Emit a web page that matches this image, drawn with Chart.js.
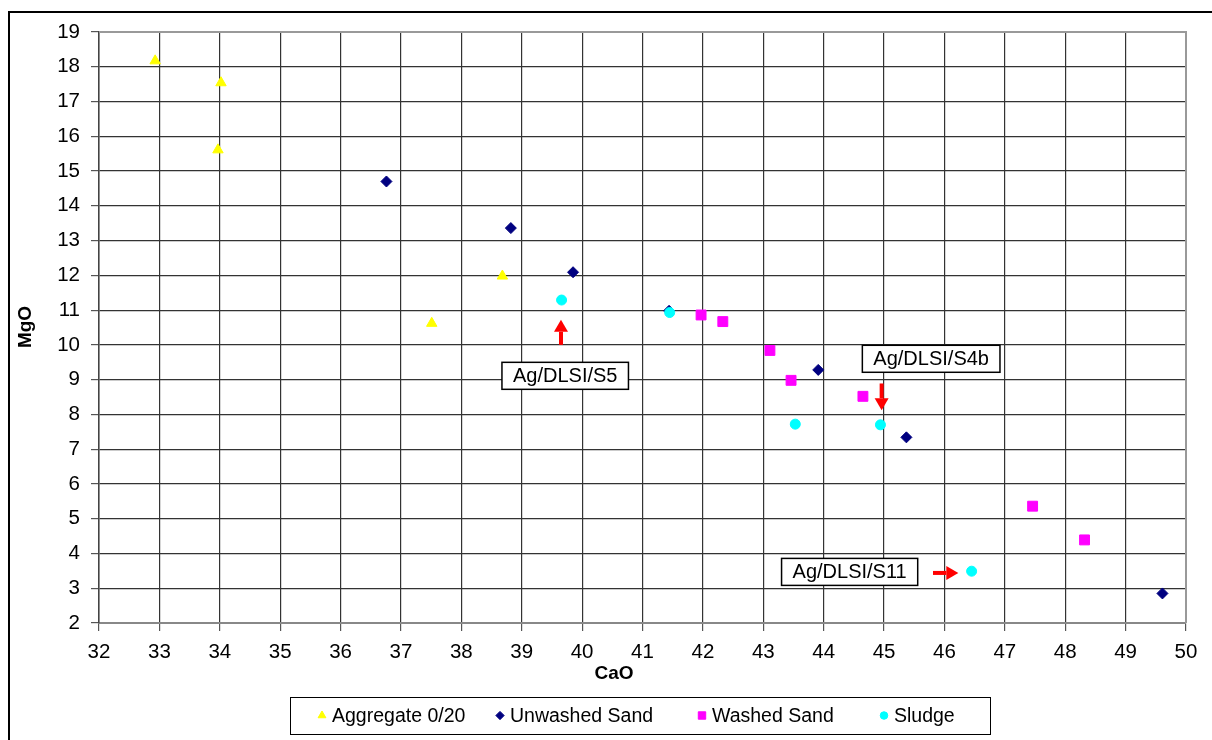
<!DOCTYPE html>
<html>
<head>
<meta charset="utf-8">
<script src="https://cdn.jsdelivr.net/npm/chart.js@4.4.0/dist/chart.umd.min.js"></script>
<style>
  html, body { margin: 0; padding: 0; background: #fff; }
  canvas { display: block; }
</style>
</head>
<body>
<canvas id="chart" width="1212" height="740"></canvas>
<script>
// series names / colours / marker styles
const seriesNames = ['Aggregate 0/20', 'Unwashed Sand', 'Washed Sand', 'Sludge'];
const seriesColors = ['#FFFF00', '#000080', '#FF00FF', '#00FFFF'];
const seriesShapes = ['triangle', 'rectRot', 'rect', 'circle'];

// CaO (x) / MgO (y) values
const aggCaO = [32.93, 34.02, 33.97, 38.68, 37.51];
const aggMgO = [18.17, 17.54, 15.61, 11.98, 10.62];

const unwashedCaO = [36.76, 38.82, 39.85, 41.44, 43.91, 45.37, 49.61];
const unwashedMgO = [14.70, 13.36, 12.09, 10.98, 9.28, 7.34, 2.85];

const washedCaO = [41.97, 42.33, 43.11, 43.46, 44.65, 47.46, 48.32];
const washedMgO = [10.86, 10.67, 9.84, 8.98, 8.52, 5.36, 4.39];

const sludgeCaO = [39.66, 41.45, 43.53, 44.94, 46.45];
const sludgeMgO = [11.29, 10.93, 7.72, 7.70, 3.49];

// axis ranges
const xMin = 32, xMax = 50;
const yMin = 2, yMax = 19;

// callout labels and arrows (data coordinates)
const noteTexts = ['Ag/DLSI/S5', 'Ag/DLSI/S4b', 'Ag/DLSI/S11'];
const noteX = [39.72, 45.78, 44.43];
const noteY = [9.11, 9.60, 3.47];
const arrowFromX = [39.65, 44.96, 45.81];
const arrowFromY = [10.00, 8.89, 3.44];
const arrowToX = [39.65, 44.96, 46.23];
const arrowToY = [10.72, 8.12, 3.44];

const FONT = '"Liberation Sans", Arial, sans-serif';

function pts(xs, ys) {
  return xs.map((x, i) => ({ x: x, y: ys[i] }));
}

const allX = [aggCaO, unwashedCaO, washedCaO, sludgeCaO];
const allY = [aggMgO, unwashedMgO, washedMgO, sludgeMgO];
const radii = [6, 5.5, 7, 5];

const datasets = seriesNames.map((name, i) => ({
  label: name,
  data: pts(allX[i], allY[i]),
  pointStyle: seriesShapes[i],
  pointRadius: radii[i],
  pointHoverRadius: radii[i],
  backgroundColor: seriesColors[i],
  borderColor: seriesColors[i],
  borderWidth: 1,
  order: 4 - i
}));

function drawArrow(ctx, x1, y1, x2, y2) {
  const ang = Math.atan2(y2 - y1, x2 - x1);
  const head = 12, half = 7;
  const bx = x2 - head * Math.cos(ang), by = y2 - head * Math.sin(ang);
  ctx.save();
  ctx.strokeStyle = '#FF0000';
  ctx.fillStyle = '#FF0000';
  ctx.lineWidth = 4;
  ctx.beginPath();
  ctx.moveTo(x1, y1);
  ctx.lineTo(bx, by);
  ctx.stroke();
  ctx.beginPath();
  ctx.moveTo(x2, y2);
  ctx.lineTo(bx + half * Math.sin(ang), by - half * Math.cos(ang));
  ctx.lineTo(bx - half * Math.sin(ang), by + half * Math.cos(ang));
  ctx.closePath();
  ctx.fill();
  ctx.restore();
}

const decorations = {
  id: 'decorations',
  beforeDraw(chart) {
    const ctx = chart.ctx;
    ctx.save();
    ctx.fillStyle = '#fff';
    ctx.fillRect(0, 0, chart.width, chart.height);
    ctx.restore();
  },
  afterDraw(chart) {
    const ctx = chart.ctx;
    const xs = chart.scales.x, ys = chart.scales.y;
    const area = chart.chartArea;
    ctx.save();

    // outer frame
    ctx.strokeStyle = '#000';
    ctx.lineWidth = 2;
    ctx.strokeRect(9, 12, 1300, 900);

    // plot area border (top / right in grey)
    ctx.strokeStyle = '#999';
    ctx.lineWidth = 2;
    ctx.beginPath();
    ctx.moveTo(area.left, area.top);
    ctx.lineTo(area.right, area.top);
    ctx.lineTo(area.right, area.bottom);
    ctx.stroke();

    // axis titles
    ctx.fillStyle = '#000';
    ctx.font = 'bold 19px ' + FONT;
    ctx.textAlign = 'center';
    ctx.textBaseline = 'middle';
    ctx.fillText('CaO', 614, 674);
    ctx.save();
    ctx.translate(26, 327);
    ctx.rotate(-Math.PI / 2);
    ctx.fillText('MgO', 0, 0);
    ctx.restore();

    // callouts
    ctx.font = '20px ' + FONT;
    noteTexts.forEach((t, i) => {
      const cx = xs.getPixelForValue(noteX[i]);
      const cy = ys.getPixelForValue(noteY[i]);
      const w = ctx.measureText(t).width + 22;
      const h = 27;
      ctx.fillStyle = '#fff';
      ctx.fillRect(cx - w / 2, cy - h / 2, w, h);
      ctx.strokeStyle = '#000';
      ctx.lineWidth = 1.5;
      ctx.strokeRect(cx - w / 2, cy - h / 2, w, h);
      ctx.fillStyle = '#000';
      ctx.fillText(t, cx, cy + 1);
      drawArrow(ctx,
        xs.getPixelForValue(arrowFromX[i]), ys.getPixelForValue(arrowFromY[i]),
        xs.getPixelForValue(arrowToX[i]), ys.getPixelForValue(arrowToY[i]));
    });

    // legend
    const lx = 290, ly = 697, lw = 700, lh = 37;
    ctx.fillStyle = '#fff';
    ctx.fillRect(lx, ly, lw, lh);
    ctx.strokeStyle = '#000';
    ctx.lineWidth = 1;
    ctx.strokeRect(lx + 0.5, ly + 0.5, lw, lh);
    const markerX = [322, 500, 702, 884];
    ctx.textAlign = 'left';
    ctx.font = '19.5px ' + FONT;
    seriesNames.forEach((name, i) => {
      const my = ly + lh / 2;
      ctx.fillStyle = seriesColors[i];
      ctx.strokeStyle = seriesColors[i];
      Chart.helpers.drawPoint(ctx, {
        pointStyle: seriesShapes[i],
        radius: radii[i] * 0.75,
        rotation: 0,
        borderWidth: 1
      }, markerX[i], my);
      ctx.fillStyle = '#000';
      ctx.fillText(name, markerX[i] + 10, my + 1);
    });
    ctx.restore();
  }
};

new Chart(document.getElementById('chart'), {
  type: 'scatter',
  data: { datasets: datasets },
  options: {
    responsive: false,
    animation: false,
    layout: { padding: { left: 0, top: 32, right: 26, bottom: 0 } },
    plugins: {
      legend: { display: false },
      tooltip: { enabled: false }
    },
    scales: {
      x: {
        type: 'linear',
        min: xMin,
        max: xMax,
        afterFit(scale) { scale.height = 740 - 623; },
        ticks: {
          stepSize: 1,
          color: '#000',
          padding: 9,
          font: { family: FONT, size: 20.5 }
        },
        grid: { color: '#333', lineWidth: 1.2, tickLength: 8, tickColor: '#555' },
        border: { color: '#888', width: 2 }
      },
      y: {
        type: 'linear',
        min: yMin,
        max: yMax,
        afterFit(scale) { scale.width = 99; },
        ticks: {
          stepSize: 1,
          color: '#000',
          padding: 11,
          font: { family: FONT, size: 20.5 }
        },
        grid: { color: '#333', lineWidth: 1.2, tickLength: 8, tickColor: '#555' },
        border: { color: '#444', width: 1.5 }
      }
    }
  },
  plugins: [decorations]
});
</script>
</body>
</html>
